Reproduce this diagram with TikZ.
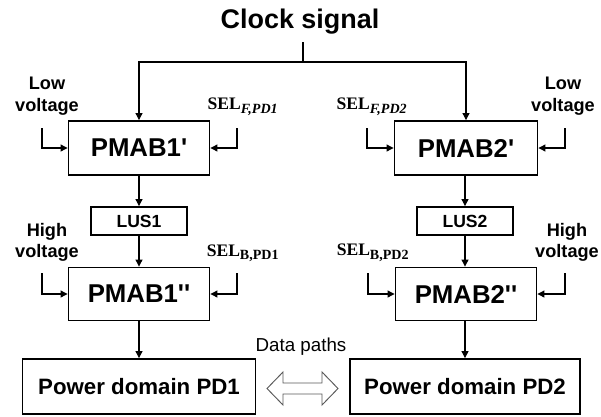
\documentclass[tikz,border=0pt]{standalone}
\usepackage{fontspec}
\setmainfont{Liberation Sans}
\newfontfamily\selfont{Liberation Serif}
\usetikzlibrary{arrows.meta}

\begin{document}
\begin{tikzpicture}[x=0.03cm,y=-0.03cm,
	blocco/.style={draw=black, line width=1.6pt, fill=white, inner sep=0pt,
		minimum width=141*\px, minimum height=54*\px,
		font=\bfseries\fontsize{22}{24}\selectfont},
	lus/.style={draw=black, line width=1.6pt, fill=white, inner sep=0pt,
		minimum width=96*\px, minimum height=28*\px,
		font=\bfseries\fontsize{15}{17}\selectfont},
	dominio/.style={draw=black, line width=1.6pt, fill=white, inner sep=0pt,
		minimum width=233*\px, minimum height=55*\px,
		font=\bfseries\fontsize{19}{21}\selectfont},
	etic/.style={align=center, inner sep=0pt, font=\bfseries\fontsize{15.5}{18.8}\selectfont},
	sel/.style={inner sep=0pt, font=\selfont\bfseries\fontsize{15}{17}\selectfont},
	linea/.style={line width=0.9pt, black},
	ingresso/.style={line width=0.9pt, black, -{Triangle[length=6pt,width=6pt]}},
	freccia/.style={line width=0.8pt, black!65, line join=miter},
	]
	\def\px{0.03cm}
	\def\ap{\textquotesingle}
	\useasboundingbox (0,0) rectangle (601,416);
	
	%% ── clock ─────────────────────────────────────────────
	\node[font=\bfseries\fontsize{23}{25}\selectfont] (clk) at (300,22) {Clock signal};
	\coordinate (clkT) at (303,42);
	\coordinate (clkJ) at (303,62);
	
	%% ── blocchi ───────────────────────────────────────────
	\node[blocco] (pmabAa) at (139,148) {PMAB1\ap};
	\node[blocco, minimum width=143*\px] (pmabBa) at (466,148) {PMAB2\ap};
	\node[lus] (lusA) at (139,221) {LUS1};
	\node[lus] (lusB) at (465,221) {LUS2};
	\node[blocco, minimum height=53*\px] (pmabAb) at (139,294) {PMAB1\ap\ap};
	\node[blocco, minimum height=53*\px] (pmabBb) at (466,294) {PMAB2\ap\ap};
	\node[dominio] (pdA) at (139,386.5) {Power domain PD1};
	\node[dominio, minimum width=230*\px] (pdB) at (465,386.5) {Power domain PD2};
	
	%% ── etichette ingressi ────────────────────────────────
	\node[etic] (lvA) at (47,96) {Low\\voltage};
	\node[etic] (lvB) at (563,96) {Low\\voltage};
	\node[etic, font=\bfseries\fontsize{15.5}{18}\selectfont] (hvA) at (47,242) {High\\voltage};
	\node[etic, font=\bfseries\fontsize{15.5}{18}\selectfont] (hvB) at (567,242) {High\\voltage};
	\node[sel] (selFA) at (243,107) {SEL\textsubscript{\itshape\fontsize{12}{13}\selectfont F,PD1}};
	\node[sel] (selFB) at (372,107) {SEL\textsubscript{\itshape\fontsize{12}{13}\selectfont F,PD2}};
	\node[sel] (selBA) at (243,253) {SEL\textsubscript{\fontsize{12}{13}\selectfont B,PD1}};
	\node[sel] (selBB) at (373,253) {SEL\textsubscript{\fontsize{12}{13}\selectfont B,PD2}};
	\node[font=\fontsize{16}{18}\selectfont] (dp) at (301,347) {Data paths};
	
	\coordinate (inLVA) at (42,128);
	\coordinate (inSFA) at (237,128);
	\coordinate (inSFB) at (367,128);
	\coordinate (inLVB) at (565,128);
	\coordinate (inHVA) at (42,273);
	\coordinate (inSBA) at (237,273);
	\coordinate (inSBB) at (368,273);
	\coordinate (inHVB) at (565,273);
	
	%% ── collegamenti ──────────────────────────────────────
	\draw[linea] (clkT) -- (clkJ);
	\draw[ingresso] (clkJ) -| (pmabAa.north);
	\draw[ingresso] (clkJ) -| (pmabBa.north);
	\draw[ingresso] (pmabAa) -- (lusA);
	\draw[ingresso] (pmabBa.south -| lusB) -- (lusB);
	\draw[ingresso] (lusA) -- (pmabAb);
	\draw[ingresso] (lusB) -- (lusB |- pmabBb.north);
	\draw[ingresso] (pmabAb) -- (pdA);
	\draw[ingresso] (pmabBb.south -| pdB) -- (pdB);
	\draw[ingresso] (inLVA) |- (pmabAa.west);
	\draw[ingresso] (inSFA) |- (pmabAa.east);
	\draw[ingresso] (inSFB) |- (pmabBa.west);
	\draw[ingresso] (inLVB) |- (pmabBa.east);
	\draw[ingresso] (inHVA) |- (pmabAb.west);
	\draw[ingresso] (inSBA) |- (pmabAb.east);
	\draw[ingresso] (inSBB) |- (pmabBb.west);
	\draw[ingresso] (inHVB) |- (pmabBb.east);
	
	%% ── data paths ────────────────────────────────────────
	\draw[freccia] (267,388.5)--(283,372)--(283,383)--(322,383)--(322,372)--(338,388.5)
		--(322,405)--(322,394)--(283,394)--(283,405)--cycle;
\end{tikzpicture}
\end{document}
